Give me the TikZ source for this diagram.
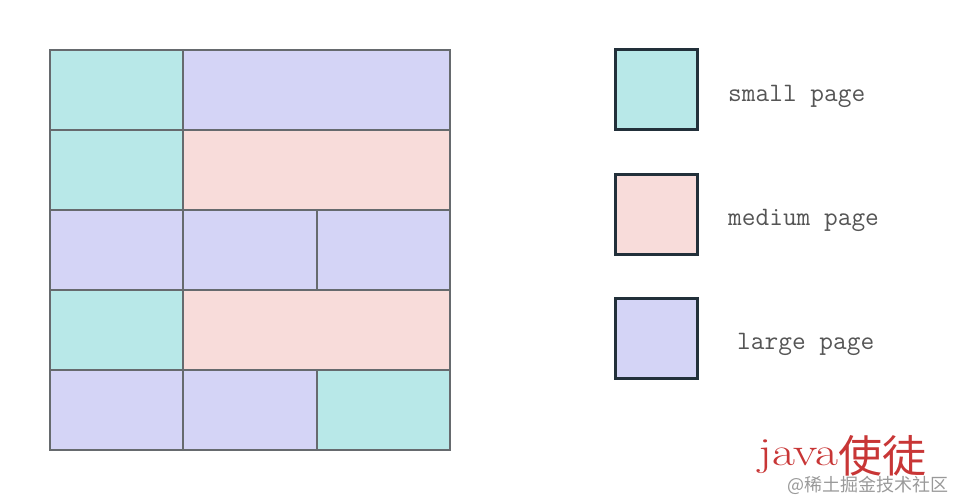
\documentclass[tikz,border=0pt]{standalone}
\usepackage{fontspec}
\newfontfamily\cjk{Noto Sans CJK SC}
\usetikzlibrary{positioning}
\definecolor{SmallPage}{HTML}{B8E8E8}
\definecolor{MediumPage}{HTML}{F8DCDA}
\definecolor{LargePage}{HTML}{D4D4F6}
\definecolor{GridGray}{HTML}{666A6E}
\definecolor{KeyBorder}{HTML}{22303A}
\definecolor{LabelGray}{HTML}{555555}
\definecolor{MarkRed}{HTML}{C83636}

\begin{document}
\begin{tikzpicture}[x = 1pt, y = -1pt]%
    %
    \def\cellw{133.33pt}%
    \def\cellh{80pt}%
    %
    \tikzstyle{cell} = [draw = GridGray, line width = 2pt, minimum width = \cellw, minimum height = \cellh, inner sep = 0pt, outer sep = 0pt]%
    \tikzstyle{wide} = [cell, minimum width = 2*\cellw]%
    \tikzstyle{small} = [fill = SmallPage]%
    \tikzstyle{medium} = [fill = MediumPage]%
    \tikzstyle{large} = [fill = LargePage]%
    \tikzstyle{key} = [draw = KeyBorder, line width = 3pt, minimum width = 82pt, minimum height = 80pt, inner sep = 0pt, outer sep = 0pt]%
    \tikzstyle{keytext} = [inner sep = 0pt, anchor = west, text = LabelGray, font = \fontsize{26.6}{30}\selectfont\ttfamily]%
    %
    \useasboundingbox (0, 0) rectangle (955, 500);%
    %
    % heap regions
    \node [cell, small, anchor = north west] (r1a) at (50, 50) {};%
    \node [wide, large, right = 0pt of r1a] (r1b) {};%
    %
    \node [cell, small, below = 0pt of r1a] (r2a) {};%
    \node [wide, medium, right = 0pt of r2a] (r2b) {};%
    %
    \node [cell, large, below = 0pt of r2a] (r3a) {};%
    \node [cell, large, right = 0pt of r3a] (r3b) {};%
    \node [cell, large, right = 0pt of r3b] (r3c) {};%
    %
    \node [cell, small, below = 0pt of r3a] (r4a) {};%
    \node [wide, medium, right = 0pt of r4a] (r4b) {};%
    %
    \node [cell, large, below = 0pt of r4a] (r5a) {};%
    \node [cell, large, right = 0pt of r5a] (r5b) {};%
    \node [cell, small, right = 0pt of r5b] (r5c) {};%
    %
    % legend
    \node [key, small] (ksmall) at (656, 90) {};%
    \node [key, medium, below = 44pt of ksmall] (kmedium) {};%
    \node [key, large, below = 44pt of kmedium] (klarge) {};%
    %
    \node [keytext, right = 31pt of ksmall, yshift = -6.5pt] (tsmall) {small page};%
    \node [keytext, right = 31pt of kmedium, yshift = -6.5pt] (tmedium) {medium page};%
    \node [keytext, right = 40pt of klarge, yshift = -6.5pt] (tlarge) {large page};%
    %
    % watermark
    \node [anchor = base west, inner sep = 0pt, text = MarkRed, font = \fontsize{40}{50}\selectfont] (mark) at (758, 465) {\scalebox{1.25}[1]{java}{\cjk\fontsize{44}{50}\selectfont\raisebox{-7pt}{使徒}}};%
    \node [anchor = base east, inner sep = 0pt, text = black!40, font = \fontsize{18}{22}\selectfont\cjk] (site) at (949, 491) {@稀土掘金技术社区};%
\end{tikzpicture}
\end{document}
